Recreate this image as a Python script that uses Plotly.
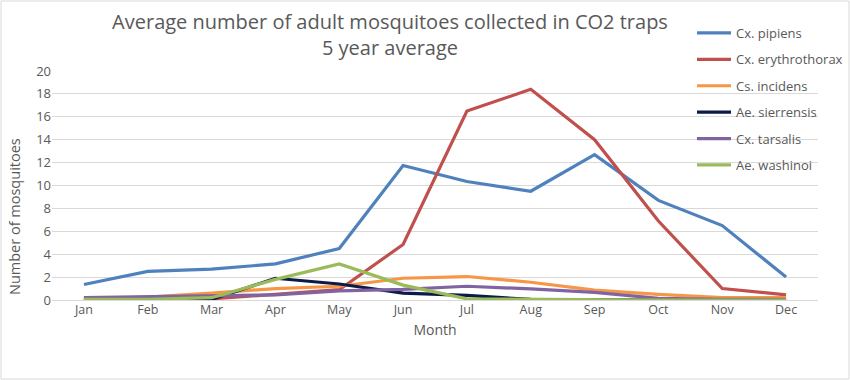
import plotly.graph_objects as go

months = ["Jan", "Feb", "Mar", "Apr", "May", "Jun", "Jul", "Aug", "Sep", "Oct", "Nov", "Dec"]

cx_pipiens = [1.35, 2.5, 2.7, 3.15, 4.5, 11.75, 10.35, 9.5, 12.7, 8.7, 6.5, 2.0]
cx_erythrothorax = [0.1, 0.1, 0.1, 0.5, 0.9, 4.85, 16.5, 18.4, 14.0, 6.9, 1.0, 0.45]
cs_incidens = [0.1, 0.25, 0.6, 1.0, 1.2, 1.9, 2.05, 1.55, 0.87, 0.5, 0.2, 0.2]
ae_sierrensis = [0.05, 0.05, 0.05, 1.9, 1.4, 0.6, 0.4, 0.05, 0.0, 0.0, 0.0, 0.0]
cx_tarsalis = [0.2, 0.3, 0.35, 0.45, 0.8, 0.93, 1.2, 0.97, 0.67, 0.15, 0.05, 0.05]
ae_washinoi = [0.05, 0.05, 0.2, 1.8, 3.15, 1.3, 0.1, 0.05, 0.0, 0.0, 0.0, 0.0]

series_names = ["Cx. pipiens", "Cx. erythrothorax", "Cs. incidens",
                "Ae. sierrensis", "Cx. tarsalis", "Ae. washinoi"]
series_values = [cx_pipiens, cx_erythrothorax, cs_incidens,
                 ae_sierrensis, cx_tarsalis, ae_washinoi]
colors = ["#4F81BD", "#C0504D", "#F79646", "#0B1A48", "#8064A2", "#9BBB59"]

FONT = "Open Sans"
GRAY = "#595959"

fig = go.Figure()
for i, (name, vals, col) in enumerate(zip(series_names, series_values, colors)):
    fig.add_trace(go.Scatter(
        x=months, y=vals, mode="lines", name=name,
        line=dict(color=col, width=3.2),
        legendgroup=f"g{i}",
    ))

W, H = 850, 380
L, R, T, B = 52, 32, 71, 80
pw, ph = W - L - R, H - T - B

fig.update_layout(
    width=W, height=H, autosize=False,
    margin=dict(l=L, r=R, t=T, b=B, autoexpand=False),
    paper_bgcolor="white", plot_bgcolor="white",
    font=dict(family=FONT, color=GRAY, size=12),
    title=dict(
        text="Average number of adult mosquitoes collected in CO2 traps<br>5 year average",
        x=390 / W, xanchor="center", xref="container",
        y=1 - 29 / H, yanchor="top",
        font=dict(size=20, color=GRAY, family=FONT),
    ),
    showlegend=True,
    legend=dict(
        x=(692 - L) / pw, xanchor="left",
        y=1 + (T - 18) / ph, yanchor="top",
        bgcolor="rgba(255,255,255,0)",
        font=dict(size=13, color=GRAY, family=FONT),
        itemwidth=34,
        tracegroupgap=6.5,
        traceorder="grouped",
    ),
    xaxis=dict(
        type="category", range=[-0.5, 11.5],
        showgrid=False, showline=False, zeroline=False,
        ticks="", tickfont=dict(size=12.5, color=GRAY),
        title=dict(text="Month", font=dict(size=14, color=GRAY), standoff=8),
    ),
    yaxis=dict(
        range=[0, 20], dtick=2,
        showgrid=True, gridcolor="#D9D9D9", gridwidth=1,
        zeroline=True, zerolinecolor="#D9D9D9", zerolinewidth=1,
        showline=False, ticks="",
        tickfont=dict(size=13, color=GRAY),
    ),
    annotations=[dict(
        text="Number of mosquitoes", textangle=-90,
        xref="paper", yref="paper",
        x=-(L - 15) / pw, y=(300 - 217) / ph,
        xanchor="center", yanchor="middle", showarrow=False,
        font=dict(size=14.5, color=GRAY, family=FONT),
    )],
    shapes=[dict(
        type="rect", xref="paper", yref="paper",
        x0=(1 - L) / pw, x1=(W - 1 - L) / pw,
        y0=-(B - 1) / ph, y1=1 + (T - 1) / ph,
        line=dict(color="#D9D9D9", width=1),
    )],
)

fig.write_html(
    "out.html",
    config={"displayModeBar": False, "responsive": False},
    post_script=(
        "document.documentElement.style.margin='0';"
        "document.documentElement.style.overflow='hidden';"
        "document.body.style.margin='0';"
        "document.body.style.padding='0';"
        "document.body.style.overflow='hidden';"
    ),
)
